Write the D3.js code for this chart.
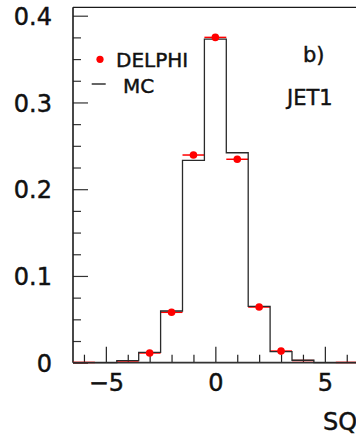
<!DOCTYPE html>
<html>
<head>
<meta charset="utf-8">
<script src="https://cdn.jsdelivr.net/npm/d3@7/dist/d3.min.js"></script>
<style>
  html, body { margin: 0; padding: 0; background: #fff; overflow: hidden; }
  svg { display: block; }
  text { font-family: "DejaVu Sans", sans-serif; fill: #111; stroke: #111; stroke-width: 0.45px; }
</style>
</head>
<body>
<svg id="chart" width="356" height="438"></svg>
<script>
// ---- data ----
const binCenters = [-6, -5, -4, -3, -2, -1, 0, 1, 2, 3, 4, 5, 6];
const mcValues     = [0, 0, 0.0023, 0.012, 0.0596, 0.2333, 0.373, 0.242, 0.065, 0.0127, 0.0028, 0, 0];
const delphiValues = [0.0003, 0, 0.002, 0.0112, 0.0581, 0.2394, 0.375, 0.2345, 0.0642, 0.0134, 0.0025, 0, 0.0003];
const xMajorTicks = [-5, 0, 5];
const xTickLabels = ["\u22125", "0", "5"];
const yMajorTicks = [0, 0.1, 0.2, 0.3, 0.4];
const yTickLabels = ["0", "0.1", "0.2", "0.3", "0.4"];
const legendLabels = ["DELPHI", "MC"];
const panelLabel = "b)";
const jetLabel = "JET1";
const xTitle = "SQ";

// ---- layout ----
const svg = d3.select("#chart");
const x = d3.scaleLinear().domain([-6.5, 6.5]).range([73, 357.7]);
const y = d3.scaleLinear().domain([0, 0.4]).range([362.7, 15.7]);
const yTop = 0.4097;
const binW = 1;
const red = "#ff0000";
const ink = "#1a1a1a";

// frame
svg.append("line").attr("x1", x(-6.5)).attr("x2", 360).attr("y1", y(yTop)).attr("y2", y(yTop))
  .attr("stroke", ink).attr("stroke-width", 1.3);

// y axis minor ticks
const yMinor = d3.range(0, 0.4001, 0.025).filter(v => yMajorTicks.every(m => Math.abs(m - v) > 1e-6));
svg.append("g").attr("transform", `translate(${x(-6.5)},0)`)
  .call(d3.axisLeft(y).tickValues(yMinor).tickSize(-8).tickFormat(""))
  .call(g => g.select(".domain").remove())
  .selectAll("line").attr("stroke", "#333").attr("stroke-width", 1.2);

// y axis major
svg.append("g").attr("transform", `translate(${x(-6.5)},0)`)
  .call(d3.axisLeft(y).tickValues(yMajorTicks).tickSize(-15).tickPadding(21)
        .tickFormat((d, i) => yTickLabels[i]))
  .call(g => g.select(".domain").remove())
  .call(g => g.selectAll("line").attr("stroke", "#333").attr("stroke-width", 1.2))
  .call(g => g.selectAll("text").attr("font-size", 24).attr("font-family", "DejaVu Sans")
        .attr("fill", "#111").attr("dy", "0.36em"));

// x axis minor ticks
const xMinor = d3.range(-6, 6.001, 1).filter(v => !xMajorTicks.includes(v));
svg.append("g").attr("transform", `translate(0,${y(0)})`)
  .call(d3.axisBottom(x).tickValues(xMinor).tickSize(-8).tickFormat(""))
  .call(g => g.select(".domain").remove())
  .selectAll("line").attr("stroke", "#222").attr("stroke-width", 1.2);

// x axis major
svg.append("g").attr("transform", `translate(0,${y(0)})`)
  .call(d3.axisBottom(x).tickValues(xMajorTicks).tickSize(-16)
        .tickFormat((d, i) => xTickLabels[i]))
  .call(g => g.select(".domain").remove())
  .call(g => g.selectAll("line").attr("stroke", "#222").attr("stroke-width", 1.2))
  .call(g => g.selectAll("text").attr("font-size", 24).attr("font-family", "DejaVu Sans")
        .attr("fill", "#111").attr("y", 28).attr("dy", 0));

// axis lines
svg.append("line").attr("x1", x(-6.5)).attr("x2", x(-6.5)).attr("y1", y(yTop)).attr("y2", y(0))
  .attr("stroke", ink).attr("stroke-width", 1.6);
svg.append("line").attr("x1", x(-6.5)).attr("x2", 360).attr("y1", y(0)).attr("y2", y(0))
  .attr("stroke", "#333").attr("stroke-width", 1.8);

// DELPHI horizontal bars (bin widths)
svg.append("g").selectAll("line").data(binCenters.map((c, i) => ({c, v: delphiValues[i]})).filter(d => d.v > 0))
  .join("line")
  .attr("x1", d => x(d.c - binW / 2)).attr("x2", d => x(d.c + binW / 2))
  .attr("y1", d => y(d.v)).attr("y2", d => y(d.v))
  .attr("stroke", red).attr("stroke-width", 1.5);

// MC histogram step
const stepPts = [];
binCenters.forEach((c, i) => {
  stepPts.push([c - binW / 2, mcValues[i]]);
  stepPts.push([c + binW / 2, mcValues[i]]);
});
svg.append("path")
  .attr("d", d3.line().x(d => x(d[0])).y(d => y(d[1]))(stepPts))
  .attr("fill", "none").attr("stroke", "#2a2a2a").attr("stroke-width", 1.3);

// DELPHI dots
svg.append("g").selectAll("circle").data(binCenters.map((c, i) => ({c, v: delphiValues[i]})).filter(d => d.v > 0.005))
  .join("circle")
  .attr("cx", d => x(d.c)).attr("cy", d => y(d.v)).attr("r", 3.8)
  .attr("fill", red);

// legend
svg.append("circle").attr("cx", 100).attr("cy", 59.3).attr("r", 3.6).attr("fill", red);
svg.append("text").attr("x", 116).attr("y", 66.7).attr("font-size", 20).text(legendLabels[0]);
svg.append("line").attr("x1", 91.7).attr("x2", 105.7).attr("y1", 84).attr("y2", 84)
  .attr("stroke", "#111").attr("stroke-width", 1.3);
svg.append("text").attr("x", 123).attr("y", 93.3).attr("font-size", 20).text(legendLabels[1]);

// panel labels
svg.append("text").attr("x", 303).attr("y", 62).attr("font-size", 21).text(panelLabel);
svg.append("text").attr("x", 287).attr("y", 104.7).attr("font-size", 21).text(jetLabel);

// x title
svg.append("text").attr("x", 323).attr("y", 430).attr("font-size", 24).text(xTitle);
</script>
</body>
</html>
